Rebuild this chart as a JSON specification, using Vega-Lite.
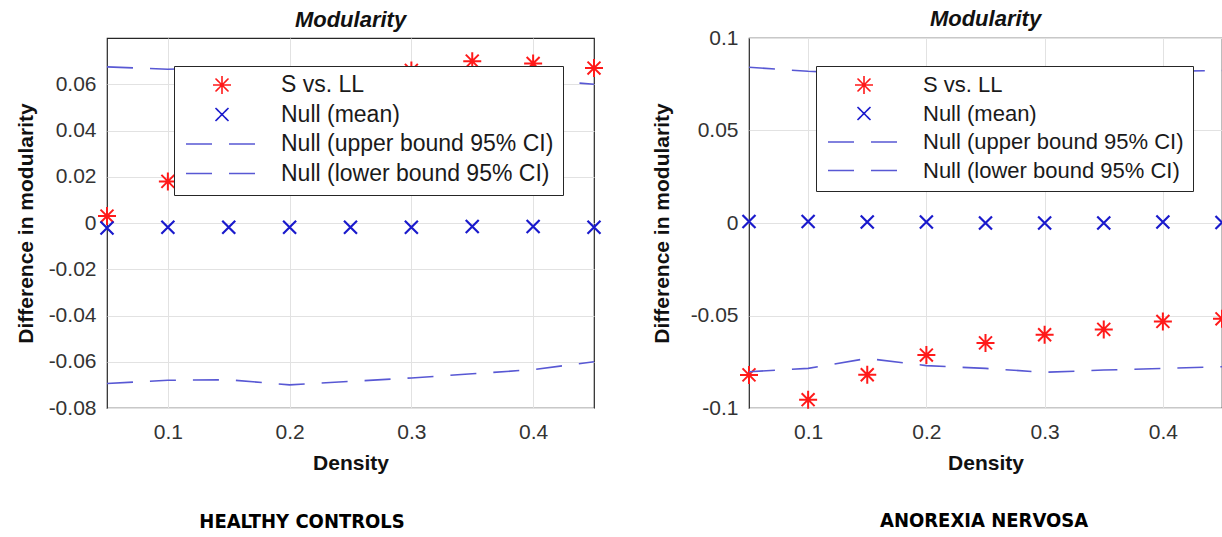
{
  "$schema": "https://vega.github.io/schema/vega-lite/v6.json",
  "background": "white",
  "padding": {"left": 14, "top": 7, "right": 0, "bottom": 0},
  "datasets": {
    "hc": [
      {"density": 0.05, "series": "S vs. LL", "value": 0.003},
      {"density": 0.10, "series": "S vs. LL", "value": 0.018},
      {"density": 0.15, "series": "S vs. LL", "value": 0.038},
      {"density": 0.20, "series": "S vs. LL", "value": 0.050},
      {"density": 0.25, "series": "S vs. LL", "value": 0.060},
      {"density": 0.30, "series": "S vs. LL", "value": 0.066},
      {"density": 0.35, "series": "S vs. LL", "value": 0.070},
      {"density": 0.40, "series": "S vs. LL", "value": 0.069},
      {"density": 0.45, "series": "S vs. LL", "value": 0.067},
      {"density": 0.05, "series": "Null (mean)", "value": -0.0022},
      {"density": 0.10, "series": "Null (mean)", "value": -0.0018},
      {"density": 0.15, "series": "Null (mean)", "value": -0.0018},
      {"density": 0.20, "series": "Null (mean)", "value": -0.0018},
      {"density": 0.25, "series": "Null (mean)", "value": -0.0018},
      {"density": 0.30, "series": "Null (mean)", "value": -0.0018},
      {"density": 0.35, "series": "Null (mean)", "value": -0.0015},
      {"density": 0.40, "series": "Null (mean)", "value": -0.0015},
      {"density": 0.45, "series": "Null (mean)", "value": -0.0018},
      {"density": 0.05, "series": "Null (upper bound 95% CI)", "value": 0.0675},
      {"density": 0.10, "series": "Null (upper bound 95% CI)", "value": 0.0665},
      {"density": 0.15, "series": "Null (upper bound 95% CI)", "value": 0.067},
      {"density": 0.20, "series": "Null (upper bound 95% CI)", "value": 0.067},
      {"density": 0.25, "series": "Null (upper bound 95% CI)", "value": 0.066},
      {"density": 0.30, "series": "Null (upper bound 95% CI)", "value": 0.065},
      {"density": 0.35, "series": "Null (upper bound 95% CI)", "value": 0.064},
      {"density": 0.40, "series": "Null (upper bound 95% CI)", "value": 0.062},
      {"density": 0.45, "series": "Null (upper bound 95% CI)", "value": 0.060},
      {"density": 0.05, "series": "Null (lower bound 95% CI)", "value": -0.0694},
      {"density": 0.10, "series": "Null (lower bound 95% CI)", "value": -0.068},
      {"density": 0.15, "series": "Null (lower bound 95% CI)", "value": -0.0678},
      {"density": 0.20, "series": "Null (lower bound 95% CI)", "value": -0.070},
      {"density": 0.25, "series": "Null (lower bound 95% CI)", "value": -0.0685},
      {"density": 0.30, "series": "Null (lower bound 95% CI)", "value": -0.067},
      {"density": 0.35, "series": "Null (lower bound 95% CI)", "value": -0.0652},
      {"density": 0.40, "series": "Null (lower bound 95% CI)", "value": -0.0634},
      {"density": 0.45, "series": "Null (lower bound 95% CI)", "value": -0.060}
    ],
    "an": [
      {"density": 0.05, "series": "S vs. LL", "value": -0.0821},
      {"density": 0.10, "series": "S vs. LL", "value": -0.0955},
      {"density": 0.15, "series": "S vs. LL", "value": -0.082},
      {"density": 0.20, "series": "S vs. LL", "value": -0.0714},
      {"density": 0.25, "series": "S vs. LL", "value": -0.0648},
      {"density": 0.30, "series": "S vs. LL", "value": -0.0604},
      {"density": 0.35, "series": "S vs. LL", "value": -0.0575},
      {"density": 0.40, "series": "S vs. LL", "value": -0.0532},
      {"density": 0.45, "series": "S vs. LL", "value": -0.0518},
      {"density": 0.05, "series": "Null (mean)", "value": 0.0008},
      {"density": 0.10, "series": "Null (mean)", "value": 0.0008},
      {"density": 0.15, "series": "Null (mean)", "value": 0.0005},
      {"density": 0.20, "series": "Null (mean)", "value": 0.0005},
      {"density": 0.25, "series": "Null (mean)", "value": 0.0},
      {"density": 0.30, "series": "Null (mean)", "value": 0.0},
      {"density": 0.35, "series": "Null (mean)", "value": 0.0},
      {"density": 0.40, "series": "Null (mean)", "value": 0.0005},
      {"density": 0.45, "series": "Null (mean)", "value": 0.0003},
      {"density": 0.05, "series": "Null (upper bound 95% CI)", "value": 0.0842},
      {"density": 0.10, "series": "Null (upper bound 95% CI)", "value": 0.082},
      {"density": 0.15, "series": "Null (upper bound 95% CI)", "value": 0.081},
      {"density": 0.20, "series": "Null (upper bound 95% CI)", "value": 0.081},
      {"density": 0.25, "series": "Null (upper bound 95% CI)", "value": 0.081},
      {"density": 0.30, "series": "Null (upper bound 95% CI)", "value": 0.081},
      {"density": 0.35, "series": "Null (upper bound 95% CI)", "value": 0.0815},
      {"density": 0.40, "series": "Null (upper bound 95% CI)", "value": 0.082},
      {"density": 0.45, "series": "Null (upper bound 95% CI)", "value": 0.0824},
      {"density": 0.05, "series": "Null (lower bound 95% CI)", "value": -0.0804},
      {"density": 0.10, "series": "Null (lower bound 95% CI)", "value": -0.0786},
      {"density": 0.15, "series": "Null (lower bound 95% CI)", "value": -0.0732},
      {"density": 0.20, "series": "Null (lower bound 95% CI)", "value": -0.0771},
      {"density": 0.25, "series": "Null (lower bound 95% CI)", "value": -0.0786},
      {"density": 0.30, "series": "Null (lower bound 95% CI)", "value": -0.0807},
      {"density": 0.35, "series": "Null (lower bound 95% CI)", "value": -0.0795},
      {"density": 0.40, "series": "Null (lower bound 95% CI)", "value": -0.0786},
      {"density": 0.45, "series": "Null (lower bound 95% CI)", "value": -0.0777}
    ]
  },
  "config": {
    "font": "Liberation Sans",
    "view": {"stroke": "#262626", "strokeWidth": 1.2},
    "axis": {
      "labelFont": "Liberation Sans",
      "labelFontSize": 21,
      "labelColor": "#333333",
      "titleFont": "Liberation Sans",
      "titleFontSize": 21,
      "titleFontWeight": "bold",
      "titleColor": "#111111",
      "gridColor": "#e2e2e2",
      "gridWidth": 1,
      "ticks": false,
      "domain": false
    },
    "axisX": {"labelPadding": 13, "titlePadding": 10},
    "axisY": {"labelPadding": 11, "titlePadding": 12},
    "legend": {
      "orient": "none",
      "legendX": 67,
      "legendY": 28,
      "direction": "vertical",
      "fillColor": "white",
      "strokeColor": "#262626",
      "strokeWidth": 1,
      "padding": 9,
      "symbolSize": 5184,
      "symbolStrokeWidth": 1.6,
      "clipHeight": 20,
      "rowPadding": 6.5,
      "labelFont": "Liberation Sans",
      "labelFontSize": 22,
      "labelColor": "#1a1a1a",
      "labelOffset": 22,
      "labelLimit": 500,
      "symbolOffset": 2
    },
    "concat": {"spacing": 42}
  },
  "resolve": {"scale": {"color": "independent", "shape": "independent", "strokeDash": "independent"}},
  "hconcat": [
    {
      "title": {"text": "HEALTHY CONTROLS", "orient": "bottom", "anchor": "middle", "font": "Liberation Sans Narrow, DejaVu Sans Condensed, sans-serif", "fontSize": 20, "fontWeight": "bold", "color": "#000000", "offset": 38, "dx": -9},
      "resolve": {"scale": {"color": "independent", "shape": "independent", "strokeDash": "independent"}},
      "vconcat": [
        {
          "width": 487,
          "height": 370,
          "title": {"text": "Modularity", "frame": "group", "anchor": "middle", "font": "Liberation Sans", "fontSize": 22, "fontWeight": "bold", "fontStyle": "italic", "color": "#111111", "offset": 6},
          "data": {"name": "hc"},
          "encoding": {
            "x": {"field": "density", "type": "quantitative", "scale": {"domain": [0.05, 0.45], "nice": false, "zero": false}, "axis": {"values": [0.1, 0.2, 0.3, 0.4], "format": ".1f", "title": "Density"}},
            "y": {"field": "value", "type": "quantitative", "scale": {"domain": [-0.08, 0.08], "nice": false, "zero": false}, "axis": {"values": [-0.08, -0.06, -0.04, -0.02, 0, 0.02, 0.04, 0.06], "labelExpr": "(datum.value < 0 ? '-' : '') + format(abs(datum.value), '~g')", "title": "Difference in modularity"}},
            "color": {"field": "series", "type": "nominal", "scale": {"domain": ["S vs. LL", "Null (mean)", "Null (upper bound 95% CI)", "Null (lower bound 95% CI)"], "range": ["#ff1a1a", "#1a1acc", "#5858d4", "#5858d4"]}, "legend": {"title": null, "labelFontSize": 23, "encode": {"symbols": {"update": {"size": {"signal": "datum.value === 'S vs. LL' ? 324 : datum.value === 'Null (mean)' ? 169 : 5184"}}}}}}
          },
          "layer": [
            {
              "transform": [{"filter": {"field": "series", "equal": "S vs. LL"}}],
              "mark": {"type": "point", "filled": false, "size": 324, "strokeWidth": 2, "opacity": 1},
              "encoding": {"shape": {"field": "series", "type": "nominal", "scale": {"domain": ["S vs. LL", "Null (mean)", "Null (upper bound 95% CI)", "Null (lower bound 95% CI)"], "range": ["M0,-1L0,1M-1,0L1,0M-0.72,-0.72L0.72,0.72M-0.72,0.72L0.72,-0.72", "M-1,-1L1,1M-1,1L1,-1", "stroke", "stroke"]}, "legend": {"title": null}}}
            },
            {
              "transform": [{"filter": {"field": "series", "equal": "Null (mean)"}}],
              "mark": {"type": "point", "filled": false, "size": 169, "strokeWidth": 2.2, "opacity": 1},
              "encoding": {"shape": {"field": "series", "type": "nominal", "scale": {"domain": ["S vs. LL", "Null (mean)", "Null (upper bound 95% CI)", "Null (lower bound 95% CI)"], "range": ["M0,-1L0,1M-1,0L1,0M-0.72,-0.72L0.72,0.72M-0.72,0.72L0.72,-0.72", "M-1,-1L1,1M-1,1L1,-1", "stroke", "stroke"]}, "legend": {"title": null}}}
            },
            {
              "transform": [{"filter": {"field": "series", "oneOf": ["Null (upper bound 95% CI)", "Null (lower bound 95% CI)"]}}],
              "mark": {"type": "line", "strokeWidth": 1.6, "strokeCap": "butt"},
              "encoding": {"strokeDash": {"field": "series", "type": "nominal", "scale": {"domain": ["S vs. LL", "Null (mean)", "Null (upper bound 95% CI)", "Null (lower bound 95% CI)"], "range": [[1, 0], [1, 0], [26, 17], [26, 17]]}, "legend": {"title": null}}}
            }
          ]
        }
      ]
    },
    {
      "title": {"text": "ANOREXIA NERVOSA", "orient": "bottom", "anchor": "middle", "font": "Liberation Sans Narrow, DejaVu Sans Condensed, sans-serif", "fontSize": 20, "fontWeight": "bold", "color": "#000000", "offset": 37, "dx": 41},
      "resolve": {"scale": {"color": "independent", "shape": "independent", "strokeDash": "independent"}},
      "vconcat": [
        {
          "width": 473,
          "height": 370,
          "title": {"text": "Modularity", "frame": "group", "anchor": "middle", "font": "Liberation Sans", "fontSize": 22, "fontWeight": "bold", "fontStyle": "italic", "color": "#111111", "offset": -4},
          "data": {"name": "an"},
          "encoding": {
            "x": {"field": "density", "type": "quantitative", "scale": {"domain": [0.05, 0.45], "nice": false, "zero": false}, "axis": {"values": [0.1, 0.2, 0.3, 0.4], "format": ".1f", "title": "Density"}},
            "y": {"field": "value", "type": "quantitative", "scale": {"domain": [-0.1, 0.1], "nice": false, "zero": false}, "axis": {"values": [-0.1, -0.05, 0, 0.05, 0.1], "labelExpr": "(datum.value < 0 ? '-' : '') + format(abs(datum.value), '~g')", "title": "Difference in modularity", "titlePadding": 18}},
            "color": {"field": "series", "type": "nominal", "scale": {"domain": ["S vs. LL", "Null (mean)", "Null (upper bound 95% CI)", "Null (lower bound 95% CI)"], "range": ["#ff1a1a", "#1a1acc", "#5858d4", "#5858d4"]}, "legend": {"title": null, "encode": {"symbols": {"update": {"size": {"signal": "datum.value === 'S vs. LL' ? 324 : datum.value === 'Null (mean)' ? 169 : 5184"}}}}}}
          },
          "layer": [
            {
              "transform": [{"filter": {"field": "series", "equal": "S vs. LL"}}],
              "mark": {"type": "point", "filled": false, "size": 324, "strokeWidth": 2, "opacity": 1},
              "encoding": {"shape": {"field": "series", "type": "nominal", "scale": {"domain": ["S vs. LL", "Null (mean)", "Null (upper bound 95% CI)", "Null (lower bound 95% CI)"], "range": ["M0,-1L0,1M-1,0L1,0M-0.72,-0.72L0.72,0.72M-0.72,0.72L0.72,-0.72", "M-1,-1L1,1M-1,1L1,-1", "stroke", "stroke"]}, "legend": {"title": null}}}
            },
            {
              "transform": [{"filter": {"field": "series", "equal": "Null (mean)"}}],
              "mark": {"type": "point", "filled": false, "size": 169, "strokeWidth": 2.2, "opacity": 1},
              "encoding": {"shape": {"field": "series", "type": "nominal", "scale": {"domain": ["S vs. LL", "Null (mean)", "Null (upper bound 95% CI)", "Null (lower bound 95% CI)"], "range": ["M0,-1L0,1M-1,0L1,0M-0.72,-0.72L0.72,0.72M-0.72,0.72L0.72,-0.72", "M-1,-1L1,1M-1,1L1,-1", "stroke", "stroke"]}, "legend": {"title": null}}}
            },
            {
              "transform": [{"filter": {"field": "series", "oneOf": ["Null (upper bound 95% CI)", "Null (lower bound 95% CI)"]}}],
              "mark": {"type": "line", "strokeWidth": 1.6, "strokeCap": "butt"},
              "encoding": {"strokeDash": {"field": "series", "type": "nominal", "scale": {"domain": ["S vs. LL", "Null (mean)", "Null (upper bound 95% CI)", "Null (lower bound 95% CI)"], "range": [[1, 0], [1, 0], [26, 17], [26, 17]]}, "legend": {"title": null}}}
            }
          ]
        }
      ]
    }
  ]
}
